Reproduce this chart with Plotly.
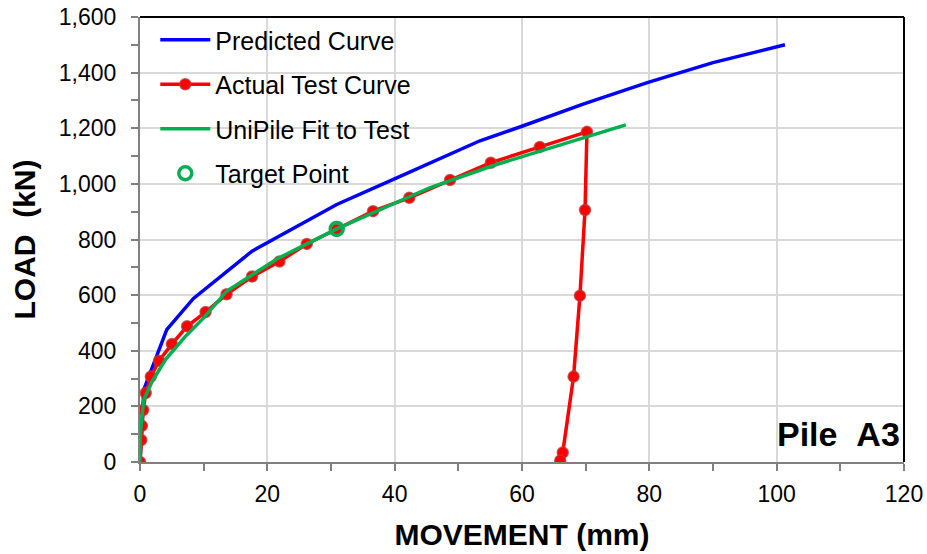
import plotly.graph_objects as go

# Predicted curve
pred_x = [0, 0.6, 4.2, 8.4, 17.6, 30.9, 39.8, 47.0, 53.4, 60.1, 69.6, 79.8, 90.0, 101.3]
pred_y = [0, 260, 476, 588, 758, 926, 1016, 1088, 1155, 1208, 1287, 1365, 1436, 1500]

# Actual test curve (loading then unloading)
test_x = [0, 0.2, 0.3, 0.5, 0.9, 1.7, 3.0, 5.0, 7.4, 10.3, 13.6, 17.6, 21.9, 26.2, 30.8,
          36.6, 42.3, 48.7, 55.1, 62.8, 70.2, 69.9, 69.1, 68.1, 66.4, 66.0]
test_y = [0, 79, 130, 187, 248, 307, 364, 424, 488, 539, 603, 667, 721, 784, 836,
          902, 950, 1014, 1076, 1133, 1187, 906, 598, 307, 34, 5]

# UniPile fit to test
fit_x = [0, 0.05, 0.58, 1.9, 4.0, 7.1, 10.0, 13.6, 21.5, 30.9, 45.5, 55.5, 76.3]
fit_y = [0, 103, 223, 289, 368, 451, 518, 614, 730, 838, 986, 1066, 1212]

# Target point
target_x = [30.9]
target_y = [838]

x_ticks = [0, 20, 40, 60, 80, 100, 120]
y_ticks = [0, 200, 400, 600, 800, 1000, 1200, 1400, 1600]

FONT = "Liberation Sans, Arial, sans-serif"

fig = go.Figure()
fig.add_trace(go.Scatter(x=pred_x, y=pred_y, mode="lines", name="Predicted Curve",
                         line=dict(color="#0000FF", width=3.5), legendgroup="a"))
fig.add_trace(go.Scatter(x=test_x, y=test_y, mode="lines+markers", name="Actual Test Curve",
                         line=dict(color="#FF0000", width=3.5),
                         marker=dict(size=11, color="#FF0000",
                                     line=dict(color="rgba(180,60,60,0.75)", width=1.5)),
                         legendgroup="b"))
fig.add_trace(go.Scatter(x=fit_x, y=fit_y, mode="lines", name="UniPile Fit to Test",
                         line=dict(color="#00B050", width=3.5), legendgroup="c"))
fig.add_trace(go.Scatter(x=target_x, y=target_y, mode="markers", name="Target Point",
                         marker=dict(size=13, color="#00B050", symbol="circle-open",
                                     line=dict(width=3.5)),
                         legendgroup="d"))

fig.update_layout(
    width=927, height=554,
    margin=dict(l=140, r=23, t=17, b=92, autoexpand=False),
    paper_bgcolor="white", plot_bgcolor="white",
    font=dict(family=FONT, color="black"),
    showlegend=True,
    legend=dict(x=0.02, y=1.0, xanchor="left", yanchor="top",
                font=dict(size=25, family=FONT),
                bgcolor="rgba(0,0,0,0)", traceorder="grouped", tracegroupgap=9,
                itemwidth=50),
    xaxis=dict(range=[0, 120], tickvals=x_ticks, ticktext=[str(v) for v in x_ticks],
               automargin=False,
               showgrid=True, gridcolor="#D9D9D9", gridwidth=1.5,
               showline=True, linecolor="#808080", linewidth=2,
               ticks="outside", ticklen=7, tickcolor="#808080", tickwidth=1.5,
               minor=dict(dtick=10, tick0=0, ticks="outside", ticklen=7,
                          tickcolor="#808080", showgrid=False),
               tickfont=dict(size=23, family=FONT),
               ticklabelstandoff=3,
               title=dict(text="MOVEMENT (mm)", standoff=18,
                          font=dict(size=30, family=FONT, weight="bold")),
               zeroline=False, fixedrange=True),
    yaxis=dict(range=[0, 1600], tickvals=y_ticks, tickformat=",d",
               automargin=False,
               showgrid=True, gridcolor="#D9D9D9", gridwidth=1.5,
               showline=True, linecolor="#808080", linewidth=2,
               ticks="outside", ticklen=7, tickcolor="#808080", tickwidth=1.5,
               minor=dict(dtick=100, tick0=0, ticks="outside", ticklen=7,
                          tickcolor="#808080", showgrid=False),
               tickfont=dict(size=23, family=FONT),
               ticklabelstandoff=10,
               title=dict(text="LOAD\u00a0\u00a0(kN)", standoff=14,
                          font=dict(size=30, family=FONT, weight="bold")),
               zeroline=False, fixedrange=True),
    shapes=[
        dict(type="line", xref="paper", yref="paper", x0=0, x1=1, y0=1, y1=1,
             line=dict(color="black", width=2)),
        dict(type="line", xref="paper", yref="paper", x0=1, x1=1, y0=0, y1=1,
             line=dict(color="black", width=2)),
    ],
    annotations=[
        dict(text="Pile\u00a0\u00a0A3", xref="paper", yref="paper", x=0.997, y=0.015,
             xanchor="right", yanchor="bottom", showarrow=False,
             font=dict(size=34, weight="bold", color="black", family=FONT)),
    ],
)

fig.write_html("out.html")
